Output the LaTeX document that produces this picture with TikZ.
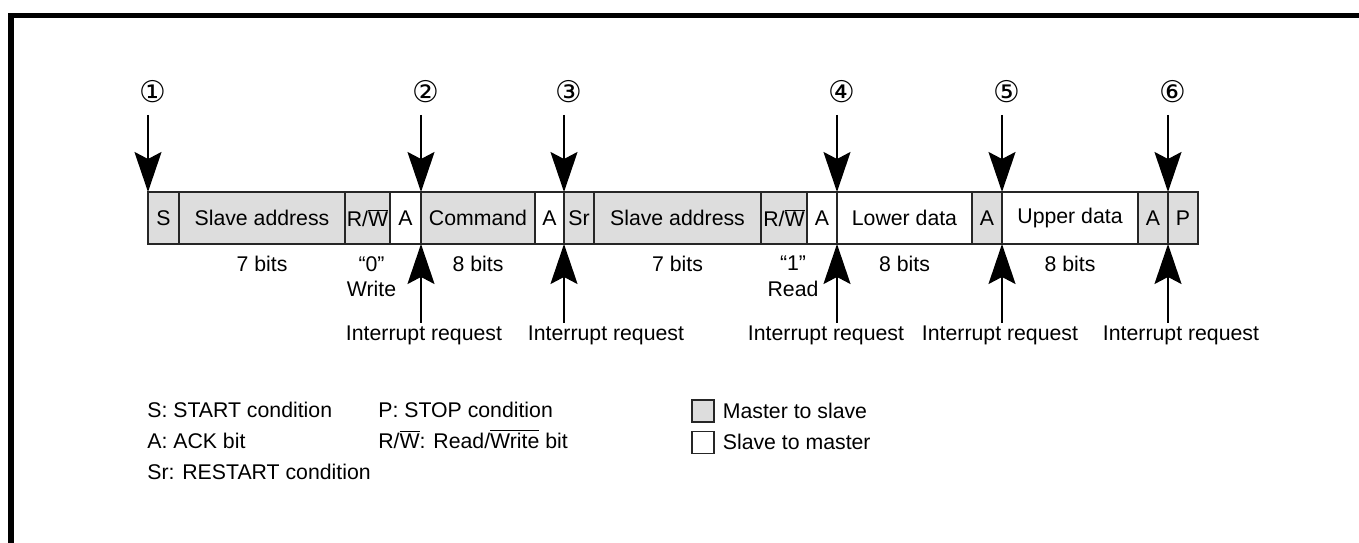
\documentclass[tikz,border=0pt]{standalone}
\usepackage{fontspec}
\setmainfont{Liberation Sans}
\newfontfamily\circfont{DejaVu Sans}
\usetikzlibrary{arrows.meta,positioning}
\definecolor{msgray}{RGB}{221,221,221}
\newcommand{\rwbar}{R/$\overline{\hbox{W}}$}

\begin{document}
\begin{tikzpicture}[
  font=\fontsize{12.1}{14.5}\selectfont,
  cell/.style={draw=black!85, line width=0.6pt, minimum height=1.04cm,
               inner sep=0pt, outer sep=0pt, anchor=west},
  mcell/.style={cell, fill=msgray},
  scell/.style={cell, fill=white},
  darr/.style={-{Stealth[length=0.8cm, width=0.54cm, inset=0.14cm]},
               line width=1.1pt},
  lbl/.style={inner sep=0pt, align=center},
  irq/.style={inner sep=2pt, anchor=base},
  num/.style={font=\circfont\fontsize{17}{19}\selectfont, inner sep=0pt},
  legend/.style={inner sep=0pt, anchor=base west},
  key/.style={draw=black!85, line width=0.6pt, minimum size=0.44cm, inner sep=0pt},
]
\useasboundingbox (0,0) rectangle (27.18,-10.86);
\draw[line width=0.1cm] (0.22,-10.86) -- (0.22,-0.31) -- (27.18,-0.31);

\coordinate (numline) at (0,-1.84);
\coordinate (dtop) at (0,-2.30);

\node[mcell, minimum width=0.62cm] (s) at (2.96,-4.36) {S};
\node[mcell, minimum width=3.32cm, right=0pt of s] (sa1) {Slave address};
\node[mcell, minimum width=0.90cm, right=0pt of sa1] (rw1) {\rwbar};
\node[scell, minimum width=0.62cm, right=0pt of rw1] (a1) {A};
\node[mcell, minimum width=2.28cm, right=0pt of a1] (cmd) {Command};
\node[scell, minimum width=0.58cm, right=0pt of cmd] (a2) {A};
\node[mcell, minimum width=0.60cm, right=0pt of a2] (sr) {Sr};
\node[mcell, minimum width=3.34cm, right=0pt of sr] (sa2) {Slave address};
\node[mcell, minimum width=0.92cm, right=0pt of sa2] (rw2) {\rwbar};
\node[scell, minimum width=0.60cm, right=0pt of rw2] (a3) {A};
\node[scell, minimum width=2.70cm, right=0pt of a3] (lo) {Lower data};
\node[mcell, minimum width=0.60cm, right=0pt of lo] (a4) {A};
\node[scell, minimum width=2.72cm, right=0pt of a4] (up) {Upper data};
\node[mcell, minimum width=0.60cm, right=0pt of up] (a5) {A};
\node[mcell, minimum width=0.60cm, right=0pt of a5] (p) {P};

\node[lbl, below=0.24cm of sa1] (b1) {7 bits};
\node[lbl, below=0.24cm of rw1, xshift=0.08cm] (wr) {``0''\\Write};
\node[lbl, below=0.24cm of cmd] (b2) {8 bits};
\node[lbl, below=0.24cm of sa2] (b3) {7 bits};
\node[lbl, below=0.24cm of rw2, xshift=0.18cm] (rd) {``1''\\Read};
\node[lbl, below=0.24cm of lo] (b4) {8 bits};
\node[lbl, below=0.24cm of up] (b5) {8 bits};

\node[num] (n1) at ([xshift=0.1cm]s.north west |- numline) {①};
\node[num] (n2) at ([xshift=0.1cm]a1.north east |- numline) {②};
\node[num] (n3) at ([xshift=0.1cm]a2.north east |- numline) {③};
\node[num] (n4) at ([xshift=0.1cm]a3.north east |- numline) {④};
\node[num] (n5) at ([xshift=0.1cm]a4.north east |- numline) {⑤};
\node[num] (n6) at ([xshift=0.1cm]a5.north east |- numline) {⑥};

\draw[darr] (s.north west |- dtop) -- (s.north west);
\draw[darr] (a1.north east |- dtop) -- (a1.north east);
\draw[darr] (a2.north east |- dtop) -- (a2.north east);
\draw[darr] (a3.north east |- dtop) -- (a3.north east);
\draw[darr] (a4.north east |- dtop) -- (a4.north east);
\draw[darr] (a5.north east |- dtop) -- (a5.north east);

\node[irq] (ir1) at (8.48,-6.82) {Interrupt request};
\node[irq] (ir2) at (12.12,-6.82) {Interrupt request};
\node[irq] (ir3) at (16.52,-6.82) {Interrupt request};
\node[irq] (ir4) at (20.00,-6.82) {Interrupt request};
\node[irq] (ir5) at (23.62,-6.82) {Interrupt request};

\draw[darr] (a1.south east |- ir1.north) -- (a1.south east);
\draw[darr] (a2.south east |- ir2.north) -- (a2.south east);
\draw[darr] (a3.south east |- ir3.north) -- (a3.south east);
\draw[darr] (a4.south east |- ir4.north) -- (a4.south east);
\draw[darr] (a5.south east |- ir5.north) -- (a5.south east);

\node[legend] (ls) at (2.94,-8.35) {S: START condition};
\node[legend] (la) at (2.94,-8.97) {A: ACK bit};
\node[legend] (lsr) at (2.94,-9.59) {Sr: RESTART condition};
\node[legend] (lp) at (7.56,-8.35) {P: STOP condition};
\node[legend] (lrw) at (7.56,-8.97) {\rwbar: Read/$\overline{\hbox{Write}}$ bit};

\node[key, fill=msgray] (kms) at (14.06,-8.22) {};
\node[key, fill=white, below=0.16cm of kms] (ksm) {};
\node[lbl, right=0.16cm of kms] (tms) {Master to slave};
\node[lbl, right=0.16cm of ksm] (tsm) {Slave to master};
\end{tikzpicture}
\end{document}
